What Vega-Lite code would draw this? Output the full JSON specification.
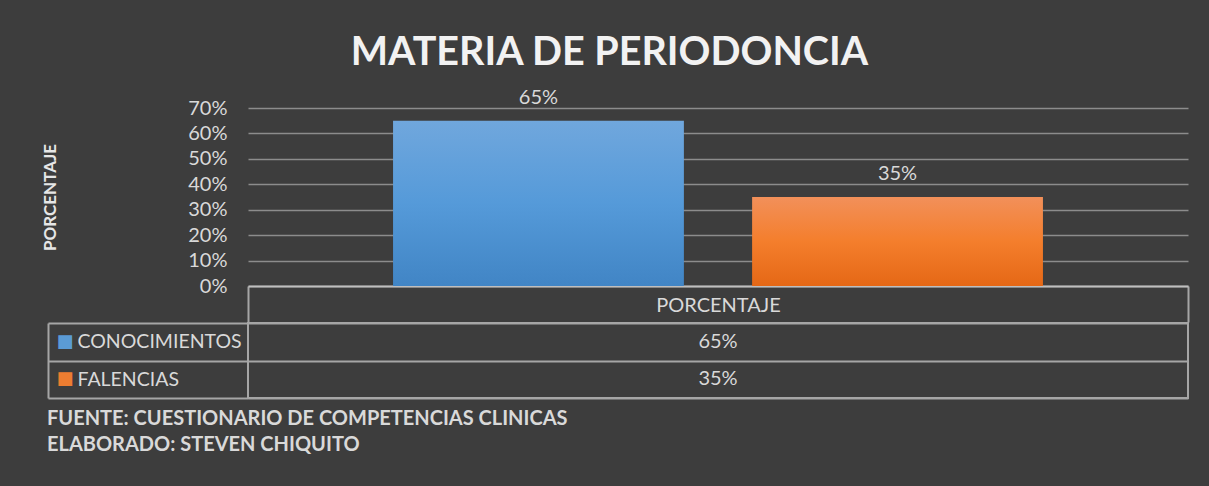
{
  "$schema": "https://vega.github.io/schema/vega-lite/v6.json",
  "background": "#3d3d3d",
  "padding": {"left": 41, "top": 33, "right": 20, "bottom": 34},
  "spacing": -12,
  "datasets": {
    "porcentajes": [
      {"categoria": "PORCENTAJE", "serie": "CONOCIMIENTOS", "valor": 0.65},
      {"categoria": "PORCENTAJE", "serie": "FALENCIAS", "valor": 0.35}
    ]
  },
  "config": {
    "font": "Lato",
    "view": {"stroke": null},
    "axis": {"labelFont": "Lato", "titleFont": "Lato"},
    "title": {"font": "Lato"}
  },
  "vconcat": [
    {
      "width": 940,
      "height": 178,
      "data": {"name": "porcentajes"},
      "title": {"text": "MATERIA DE PERIODONCIA", "anchor": "middle", "frame": "bounds", "fontSize": 39.5, "fontWeight": "bold", "color": "#f2f2f2", "offset": 14, "dx": -6},
      "encoding": {
        "x": {
          "field": "categoria", "type": "nominal",
          "scale": {"paddingInner": 0, "paddingOuter": 0},
          "axis": {"title": null, "labelAngle": 0, "domainColor": "#bfbfbf", "domainWidth": 2, "tickBand": "extent", "tickSize": 36, "tickColor": "#a6a6a6", "tickWidth": 2, "labelColor": "#d9d9d9", "labelFontSize": 20, "labelBaseline": "middle", "labelPadding": -17}
        },
        "xOffset": {"field": "serie", "type": "nominal", "scale": {"paddingInner": 0.19, "paddingOuter": 0.404}},
        "y": {
          "field": "valor", "type": "quantitative",
          "scale": {"domain": [0, 0.7], "nice": false},
          "axis": {"values": [0, 0.1, 0.2, 0.3, 0.4, 0.5, 0.6, 0.7], "format": ".0%", "title": "PORCENTAJE", "titleColor": "#e6e6e6", "titleFontSize": 17, "titleFontWeight": "bold", "titlePadding": 128, "labelColor": "#d9d9d9", "labelFontSize": 20, "labelPadding": 21, "ticks": false, "domain": false, "gridColor": "#8c8c8c", "gridWidth": 1.5}
        }
      },
      "layer": [
        {
          "transform": [{"filter": "datum.serie === 'CONOCIMIENTOS'"}],
          "mark": {"type": "bar", "fill": {"gradient": "linear", "x1": 0, "y1": 0, "x2": 0, "y2": 1, "stops": [{"offset": 0, "color": "#70a7dd"}, {"offset": 0.5, "color": "#559ad9"}, {"offset": 1, "color": "#4185c5"}]}}
        },
        {
          "transform": [{"filter": "datum.serie === 'FALENCIAS'"}],
          "mark": {"type": "bar", "fill": {"gradient": "linear", "x1": 0, "y1": 0, "x2": 0, "y2": 1, "stops": [{"offset": 0, "color": "#f2905a"}, {"offset": 0.5, "color": "#f47e2c"}, {"offset": 1, "color": "#e56816"}]}}
        },
        {
          "mark": {"type": "text", "baseline": "alphabetic", "dy": -17, "fontSize": 20, "color": "#d9d9d9"},
          "encoding": {"text": {"field": "valor", "type": "quantitative", "format": ".0%"}}
        }
      ]
    },
    {
      "width": 940,
      "height": 75,
      "data": {"name": "porcentajes"},
      "view": {"stroke": "#a6a6a6", "strokeWidth": 2},
      "title": {"text": ["FUENTE: CUESTIONARIO DE COMPETENCIAS CLINICAS", "ELABORADO: STEVEN  CHIQUITO"], "orient": "bottom", "anchor": "start", "frame": "bounds", "fontSize": 20, "fontWeight": "bold", "color": "#d9d9d9", "lineHeight": 26, "offset": 10},
      "layer": [
        {
          "mark": {"type": "text", "fontSize": 20, "color": "#d9d9d9"},
          "encoding": {
            "y": {
              "field": "serie", "type": "nominal",
              "scale": {"paddingInner": 0, "paddingOuter": 0},
              "axis": {"orient": "left", "title": null, "offset": 200, "tickBand": "extent", "tickSize": -200, "tickColor": "#a6a6a6", "tickWidth": 2, "domainColor": "#a6a6a6", "domainWidth": 2, "grid": true, "gridColor": "#a6a6a6", "gridWidth": 2, "labelAlign": "left", "labelPadding": 171, "labelColor": "#d9d9d9", "labelFontSize": 19.5}
            },
            "text": {"field": "valor", "type": "quantitative", "format": ".0%"}
          }
        },
        {
          "mark": {"type": "text", "text": ""},
          "encoding": {
            "y": {
              "field": "serie", "type": "nominal",
              "axis": {"orient": "left", "title": null, "domain": false, "ticks": false, "grid": false, "labelExpr": "'■'", "labelAlign": "left", "labelPadding": 192, "labelFont": "DejaVu Sans", "labelFontSize": 18, "labelColor": {"condition": {"test": "datum.value === 'CONOCIMIENTOS'", "value": "#5b9bd5"}, "value": "#ed7d31"}}
            }
          }
        }
      ],
      "resolve": {"axis": {"y": "independent"}}
    }
  ]
}
